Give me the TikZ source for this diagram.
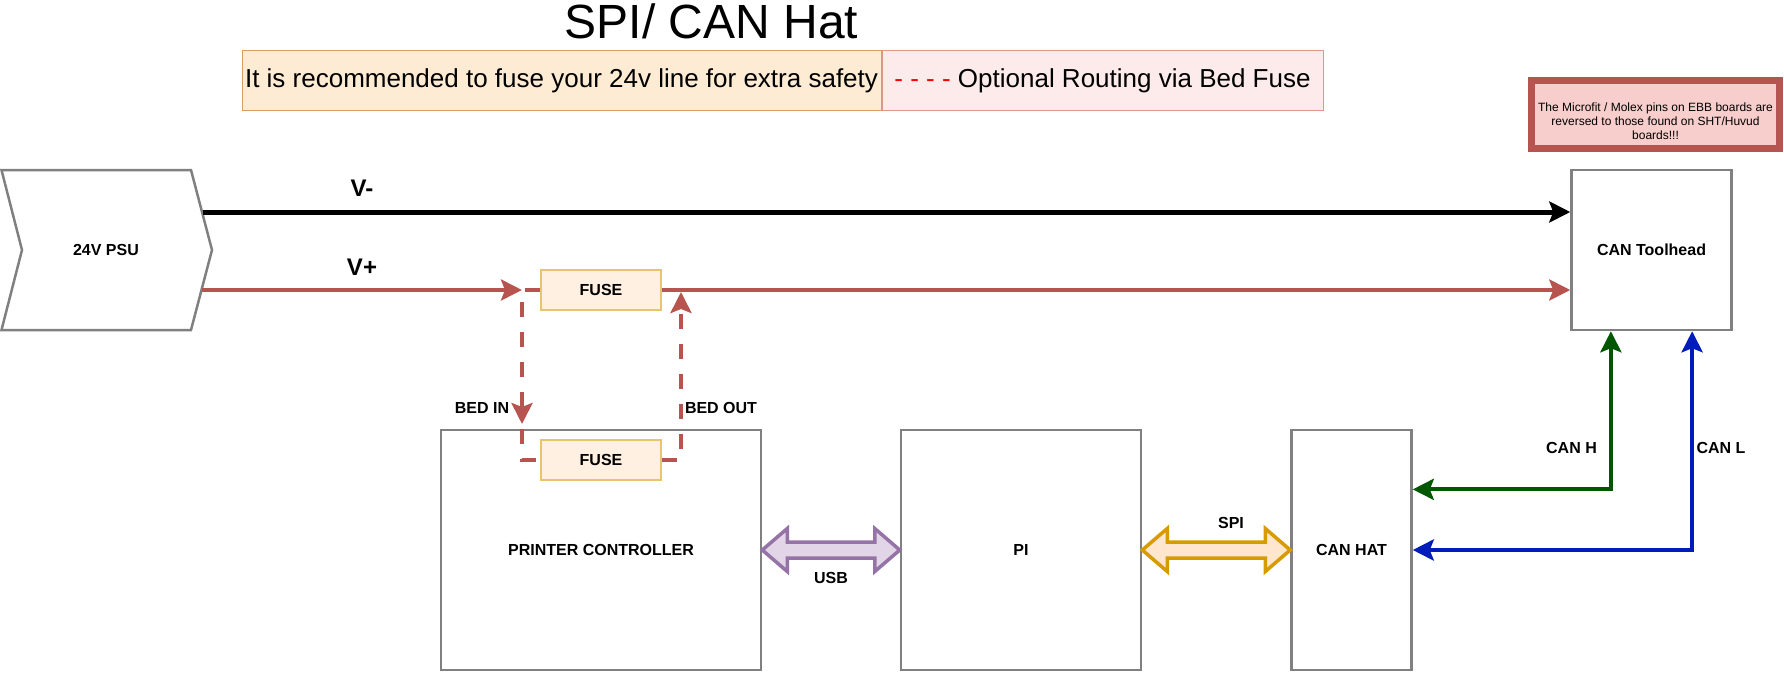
\documentclass[tikz,border=0pt]{standalone}
\usepackage{fontspec}
\setmainfont{Liberation Sans}
\usepackage{tikz}
\usetikzlibrary{arrows.meta,positioning,calc}

\definecolor{boxgray}{HTML}{808080}
\definecolor{vred}{HTML}{B85450}
\definecolor{fusefill}{HTML}{FFF0E1}
\definecolor{fuseline}{HTML}{E8C46E}
\definecolor{leganfill}{HTML}{FDEBD4}
\definecolor{leganline}{HTML}{D6A160}
\definecolor{legbfill}{HTML}{FCEBEA}
\definecolor{legbline}{HTML}{E0968C}
\definecolor{optred}{HTML}{FF0000}
\definecolor{warnfill}{HTML}{F8CECC}
\definecolor{usbline}{HTML}{9673A6}
\definecolor{usbfill}{HTML}{E1D5E7}
\definecolor{spiline}{HTML}{D79B00}
\definecolor{spifill}{HTML}{FFE6CC}
\definecolor{canhcol}{HTML}{005700}
\definecolor{canlcol}{HTML}{001DBC}

\begin{document}
\begin{tikzpicture}[x=1pt, y=-1pt,
        lbl/.style={font=\fontsize{16}{19}\selectfont\bfseries},
        box/.style={rectangle, draw=boxgray, line width=2.5pt, lbl},
        fusebox/.style={rectangle, draw=fuseline, fill=fusefill, line width=2.5pt, minimum width=120pt, minimum height=40pt, lbl},
        notebox/.style={rectangle, line width=1pt, minimum height=60pt, inner sep=0pt, font=\fontsize{26}{30}\selectfont},
        headend/.style={-{Stealth[length=21pt, width=21pt, inset=4pt]}},
        headboth/.style={{Stealth[length=21pt, width=21pt, inset=4pt]}-{Stealth[length=21pt, width=21pt, inset=4pt]}},
        redline/.style={draw=vred, line width=4pt},
        bedline/.style={draw=vred, line width=4pt, dash pattern=on 15pt off 15pt},
        usbarrow/.style={draw=usbline, fill=usbfill, line width=3.5pt},
        spiarrow/.style={draw=spiline, fill=spifill, line width=3.5pt}]
        \def\flexlen{25}
        \def\flexhead{21.5}
        \def\flexshaft{8}
        \useasboundingbox (0,0) rectangle (1784,672);

        \node(title) [font=\fontsize{48}{56}\selectfont, anchor=base] at (711.5,38.5) {SPI/ CAN Hat};
        \node(leg1) [notebox, draw=leganline, fill=leganfill, minimum width=639pt] at (561.5,80.5) {It is recommended to fuse your 24v line for extra safety};
        \node(leg2) [notebox, draw=legbline, fill=legbfill, minimum width=441pt, right=0pt of leg1] {{\color{optred}- - - -} Optional Routing via Bed Fuse};

        \node(warn) [rectangle, draw=vred, fill=warnfill, line width=7pt, minimum width=248pt, minimum height=68pt] at (1655.5,114.5) {};
        \node(warntext) [align=center, font=\fontsize{12}{14}\selectfont] at (1655.5,121) {The Microfit / Molex pins on EBB boards are\\reversed to those found on SHT/Huvud\\boards!!!};

        \draw[draw=boxgray, line width=2.5pt] (1.5,170) -- (191,170) -- (212,250) -- (191,330) -- (1.5,330) -- (22,250) -- cycle;
        \node(psu) [lbl] at (106,250) {24V PSU};
        \coordinate (vneg) at (203,212);
        \coordinate (vpos) at (202,290);

        \node(toolhead) [box, minimum width=160pt, minimum height=160pt] at (1651.5,250) {CAN Toolhead};
        \node(fuse1) [fusebox] at (601,290) {FUSE};
        \node(ctrl) [box, minimum width=320pt, minimum height=240pt] at (601,550) {PRINTER CONTROLLER};
        \node(fuse2) [fusebox] at (601,460) {FUSE};
        \node(rpi) [box, minimum width=240pt, minimum height=240pt] at (1021,550) {PI};
        \node(canhat) [box, minimum width=120pt, minimum height=240pt] at (1351.5,550) {CAN HAT};

        \node(vneglbl) [font=\fontsize{24}{28}\selectfont\bfseries] at (362,188) {V-};
        \node(vposlbl) [font=\fontsize{24}{28}\selectfont\bfseries] at (362,267) {V+};
        \node(bedinlbl) [lbl] at (482,408) {BED IN};
        \node(bedoutlbl) [lbl] at (721,408) {BED OUT};
        \node(usblbl) [lbl] at (831,578) {USB};
        \node(spilbl) [lbl] at (1231,523) {SPI};
        \node(canhlbl) [lbl] at (1571.5,448) {CAN H};
        \node(canllbl) [lbl] at (1721,448) {CAN L};

        \coordinate (bedin) at (522,424);
        \coordinate (bedout) at (681,292);

        \draw[line width=5pt, headend] (vneg) -- (vneg -| toolhead.west);
        \draw[redline, headend] (vpos) -- (vpos -| bedin);
        \draw[redline, headend] (fuse1.east) -- (fuse1.east -| toolhead.west);

        \draw[bedline, headend] (fuse1.west) -| (bedin);
        \draw[bedline] (bedin |- ctrl.north) |- (fuse2.west);
        \draw[bedline, headend] (fuse2.east) -| (bedout);

        \foreach \a/\b/\c in {ctrl/rpi/usbarrow, rpi/canhat/spiarrow}
            \draw[\c] (\a.east) -- ++(\flexlen,-\flexhead) -- ++(0,\flexhead-\flexshaft) -- ($(\b.west)+(-\flexlen,-\flexshaft)$) -- ++(0,\flexshaft-\flexhead) -- (\b.west) -- ++(-\flexlen,\flexhead) -- ++(0,\flexshaft-\flexhead) -- ($(\a.east)+(\flexlen,\flexshaft)$) -- ++(0,\flexhead-\flexshaft) -- cycle;

        \draw[draw=canhcol, line width=4pt, headboth] ($(toolhead.south west)!0.25!(toolhead.south east)$) |- ($(canhat.north east)!0.25!(canhat.south east)$);
        \draw[draw=canlcol, line width=4pt, headboth] ($(toolhead.south west)!0.75!(toolhead.south east)$) |- (canhat.east);
    \end{tikzpicture}
\end{document}
